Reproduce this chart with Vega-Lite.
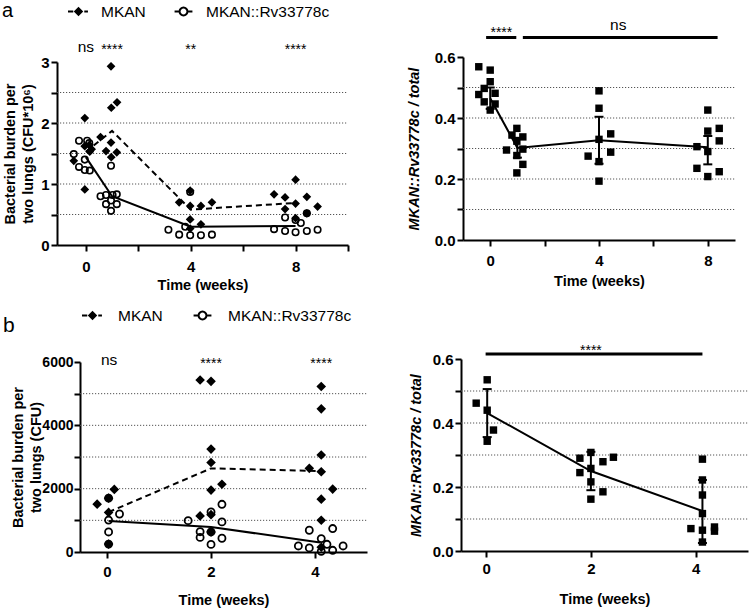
{
  "$schema": "https://vega.github.io/schema/vega-lite/v6.json",
  "width": 749,
  "height": 609,
  "autosize": "none",
  "padding": 0,
  "background": "white",
  "config": {
    "font": "Liberation Sans",
    "view": {"stroke": null},
    "axis": {
      "domainColor": "black", "domainWidth": 2, "tickColor": "black", "tickWidth": 2, "tickSize": 6,
      "labelFont": "Liberation Sans", "labelFontWeight": "bold", "labelFontSize": 15, "labelColor": "black",
      "titleFont": "Liberation Sans", "titleFontWeight": "bold", "titleFontSize": 14.5, "titleColor": "black",
      "titleLineHeight": 18.5, "grid": false, "labelOverlap": false, "labelFlush": false
    },
    "axisY": {"labelPadding": 2}
  },
  "resolve": {"scale": {"x": "independent", "y": "independent", "shape": "independent", "fill": "independent"}},
  "datasets": {
    "gridAL": [{"g": 0.5}, {"g": 1}, {"g": 1.5}, {"g": 2}, {"g": 2.5}],
    "gridAR": [{"g": 0.1}, {"g": 0.2}, {"g": 0.3}, {"g": 0.4}, {"g": 0.5}],
    "gridBL": [{"g": 1000}, {"g": 2000}, {"g": 3000}, {"g": 4000}, {"g": 5000}],
    "gridBR": [{"g": 0.1}, {"g": 0.2}, {"g": 0.3}, {"g": 0.4}, {"g": 0.5}],
    "ptsAL": [
      {"t": -0.26, "v": 1.71, "s": "MKAN::Rv33778c"}, {"t": 0.05, "v": 1.71, "s": "MKAN::Rv33778c"}, {"t": 0.13, "v": 1.67, "s": "MKAN::Rv33778c"},
      {"t": -0.46, "v": 1.49, "s": "MKAN::Rv33778c"}, {"t": -0.04, "v": 1.40, "s": "MKAN::Rv33778c"}, {"t": -0.26, "v": 1.28, "s": "MKAN::Rv33778c"},
      {"t": -0.04, "v": 1.23, "s": "MKAN::Rv33778c"}, {"t": 0.15, "v": 1.22, "s": "MKAN::Rv33778c"},
      {"t": 0.96, "v": 1.30, "s": "MKAN::Rv33778c"}, {"t": 0.56, "v": 0.80, "s": "MKAN::Rv33778c"}, {"t": 0.77, "v": 0.82, "s": "MKAN::Rv33778c"},
      {"t": 1.02, "v": 0.82, "s": "MKAN::Rv33778c"}, {"t": 1.18, "v": 0.83, "s": "MKAN::Rv33778c"}, {"t": 0.77, "v": 0.67, "s": "MKAN::Rv33778c"},
      {"t": 1.18, "v": 0.67, "s": "MKAN::Rv33778c"}, {"t": 0.96, "v": 0.56, "s": "MKAN::Rv33778c"}, {"t": 0.96, "v": 0.73, "s": "MKAN::Rv33778c"},
      {"t": 3.15, "v": 0.25, "s": "MKAN::Rv33778c"}, {"t": 3.56, "v": 0.17, "s": "MKAN::Rv33778c"}, {"t": 3.98, "v": 0.16, "s": "MKAN::Rv33778c"},
      {"t": 4.39, "v": 0.16, "s": "MKAN::Rv33778c"}, {"t": 4.81, "v": 0.17, "s": "MKAN::Rv33778c"}, {"t": 3.79, "v": 0.30, "s": "MKAN::Rv33778c"},
      {"t": 3.98, "v": 0.87, "s": "MKAN::Rv33778c"},
      {"t": 7.6, "v": 0.45, "s": "MKAN::Rv33778c"}, {"t": 8.0, "v": 0.41, "s": "MKAN::Rv33778c"}, {"t": 8.2, "v": 0.36, "s": "MKAN::Rv33778c"},
      {"t": 7.18, "v": 0.26, "s": "MKAN::Rv33778c"}, {"t": 7.6, "v": 0.23, "s": "MKAN::Rv33778c"}, {"t": 8.0, "v": 0.21, "s": "MKAN::Rv33778c"},
      {"t": 8.43, "v": 0.23, "s": "MKAN::Rv33778c"}, {"t": 8.84, "v": 0.25, "s": "MKAN::Rv33778c"}, {"t": 8.43, "v": 0.52, "s": "MKAN::Rv33778c"},
      {"t": -0.04, "v": 2.08, "s": "MKAN"}, {"t": 0.13, "v": 1.64, "s": "MKAN"}, {"t": 0.22, "v": 1.57, "s": "MKAN"},
      {"t": -0.04, "v": 1.62, "s": "MKAN"}, {"t": 0.15, "v": 1.53, "s": "MKAN"}, {"t": -0.46, "v": 1.38, "s": "MKAN"}, {"t": -0.04, "v": 0.91, "s": "MKAN"},
      {"t": 0.96, "v": 2.93, "s": "MKAN"}, {"t": 1.19, "v": 2.34, "s": "MKAN"}, {"t": 0.97, "v": 2.25, "s": "MKAN"}, {"t": 0.56, "v": 1.77, "s": "MKAN"},
      {"t": 0.96, "v": 1.68, "s": "MKAN"}, {"t": 0.77, "v": 1.54, "s": "MKAN"}, {"t": 1.18, "v": 1.52, "s": "MKAN"}, {"t": 0.97, "v": 1.44, "s": "MKAN"},
      {"t": 3.56, "v": 0.70, "s": "MKAN"}, {"t": 3.98, "v": 0.64, "s": "MKAN"}, {"t": 4.39, "v": 0.64, "s": "MKAN"}, {"t": 4.81, "v": 0.70, "s": "MKAN"},
      {"t": 3.98, "v": 0.42, "s": "MKAN"}, {"t": 4.39, "v": 0.34, "s": "MKAN"}, {"t": 3.98, "v": 0.89, "s": "MKAN"}, {"t": 3.98, "v": 0.27, "s": "MKAN"},
      {"t": 8.0, "v": 1.07, "s": "MKAN"}, {"t": 7.18, "v": 0.83, "s": "MKAN"}, {"t": 7.6, "v": 0.78, "s": "MKAN"}, {"t": 8.43, "v": 0.79, "s": "MKAN"},
      {"t": 8.0, "v": 0.68, "s": "MKAN"}, {"t": 7.6, "v": 0.59, "s": "MKAN"}, {"t": 8.84, "v": 0.63, "s": "MKAN"}, {"t": 8.43, "v": 0.52, "s": "MKAN"},
      {"t": 8.0, "v": 0.44, "s": "MKAN"}
    ],
    "lineAL": [
      {"t": 0, "v": 1.53, "s": "MKAN"}, {"t": 1, "v": 1.87, "s": "MKAN"}, {"t": 4, "v": 0.58, "s": "MKAN"}, {"t": 8, "v": 0.69, "s": "MKAN"},
      {"t": 0, "v": 1.44, "s": "MKAN::Rv33778c"}, {"t": 1, "v": 0.80, "s": "MKAN::Rv33778c"}, {"t": 4, "v": 0.30, "s": "MKAN::Rv33778c"}, {"t": 8, "v": 0.31, "s": "MKAN::Rv33778c"}
    ],
    "sigAL": [
      {"t": 0, "v": 3.17, "lab": "ns"}, {"t": 1, "v": 3.13, "lab": "****"}, {"t": 4, "v": 3.13, "lab": "**"}, {"t": 8, "v": 3.13, "lab": "****"}
    ],
    "sqAR": [
      {"t": -0.42, "v": 0.568}, {"t": 0, "v": 0.557}, {"t": 0, "v": 0.519}, {"t": -0.22, "v": 0.497}, {"t": -0.42, "v": 0.477},
      {"t": 0.18, "v": 0.481}, {"t": -0.22, "v": 0.453}, {"t": 0.18, "v": 0.446}, {"t": 0, "v": 0.426},
      {"t": 0.98, "v": 0.366}, {"t": 0.8, "v": 0.344}, {"t": 1.2, "v": 0.338}, {"t": 0.98, "v": 0.324}, {"t": 0.6, "v": 0.295},
      {"t": 1.2, "v": 0.298}, {"t": 0.98, "v": 0.277}, {"t": 1.2, "v": 0.248}, {"t": 0.98, "v": 0.22},
      {"t": 4, "v": 0.489}, {"t": 4, "v": 0.432}, {"t": 4, "v": 0.330}, {"t": 3.6, "v": 0.275}, {"t": 4.43, "v": 0.348},
      {"t": 4.43, "v": 0.288}, {"t": 4, "v": 0.257}, {"t": 4, "v": 0.193},
      {"t": 8, "v": 0.426}, {"t": 8.42, "v": 0.366}, {"t": 8, "v": 0.357}, {"t": 8.42, "v": 0.325}, {"t": 7.6, "v": 0.306},
      {"t": 8, "v": 0.290}, {"t": 7.6, "v": 0.235}, {"t": 8.42, "v": 0.224}, {"t": 8, "v": 0.208}
    ],
    "mAR": [
      {"t": 0, "m": 0.465, "lo": 0.43, "hi": 0.50}, {"t": 1, "m": 0.302, "lo": 0.27, "hi": 0.335},
      {"t": 4, "m": 0.327, "lo": 0.25, "hi": 0.404}, {"t": 8, "m": 0.304, "lo": 0.248, "hi": 0.341}
    ],
    "barAR": [{"x1": -0.15, "x2": 0.96, "y": 0.664}, {"x1": 1.2, "x2": 8.36, "y": 0.664}],
    "sigAR": [{"t": 0.41, "v": 0.667, "lab": "****"}, {"t": 4.71, "v": 0.689, "lab": "ns"}],
    "ptsBL": [
      {"t": 0.03, "v": 1700, "s": "MKAN::Rv33778c"}, {"t": 0.03, "v": 1010, "s": "MKAN::Rv33778c"}, {"t": 0.03, "v": 633, "s": "MKAN::Rv33778c"},
      {"t": 0.24, "v": 1200, "s": "MKAN::Rv33778c"}, {"t": 0.03, "v": 250, "s": "MKAN::Rv33778c"},
      {"t": 1.56, "v": 990, "s": "MKAN::Rv33778c"}, {"t": 2, "v": 1267, "s": "MKAN::Rv33778c"}, {"t": 2.21, "v": 1506, "s": "MKAN::Rv33778c"},
      {"t": 2.21, "v": 950, "s": "MKAN::Rv33778c"}, {"t": 1.79, "v": 640, "s": "MKAN::Rv33778c"}, {"t": 1.79, "v": 460, "s": "MKAN::Rv33778c"},
      {"t": 2, "v": 240, "s": "MKAN::Rv33778c"}, {"t": 2.21, "v": 434, "s": "MKAN::Rv33778c"}, {"t": 2, "v": 633, "s": "MKAN::Rv33778c"},
      {"t": 3.89, "v": 687, "s": "MKAN::Rv33778c"}, {"t": 4.34, "v": 741, "s": "MKAN::Rv33778c"}, {"t": 4.12, "v": 424, "s": "MKAN::Rv33778c"},
      {"t": 4.23, "v": 244, "s": "MKAN::Rv33778c"}, {"t": 3.68, "v": 190, "s": "MKAN::Rv33778c"}, {"t": 3.89, "v": 127, "s": "MKAN::Rv33778c"},
      {"t": 4.12, "v": 22, "s": "MKAN::Rv33778c"}, {"t": 4.34, "v": 54, "s": "MKAN::Rv33778c"}, {"t": 4.54, "v": 190, "s": "MKAN::Rv33778c"},
      {"t": -0.19, "v": 1511, "s": "MKAN"}, {"t": 0.14, "v": 1976, "s": "MKAN"}, {"t": 0.03, "v": 1250, "s": "MKAN"},
      {"t": 0.03, "v": 1700, "s": "MKAN"}, {"t": 0.03, "v": 250, "s": "MKAN"},
      {"t": 1.79, "v": 5430, "s": "MKAN"}, {"t": 2, "v": 5390, "s": "MKAN"}, {"t": 2, "v": 3250, "s": "MKAN"}, {"t": 2, "v": 2825, "s": "MKAN"},
      {"t": 2, "v": 1955, "s": "MKAN"}, {"t": 2.21, "v": 2140, "s": "MKAN"}, {"t": 1.79, "v": 1140, "s": "MKAN"}, {"t": 2, "v": 1180, "s": "MKAN"},
      {"t": 2, "v": 633, "s": "MKAN"},
      {"t": 4.12, "v": 5227, "s": "MKAN"}, {"t": 4.12, "v": 4520, "s": "MKAN"}, {"t": 4.12, "v": 3063, "s": "MKAN"}, {"t": 3.89, "v": 2641, "s": "MKAN"},
      {"t": 4.12, "v": 2534, "s": "MKAN"}, {"t": 4.34, "v": 1986, "s": "MKAN"}, {"t": 4.12, "v": 1669, "s": "MKAN"}, {"t": 4.12, "v": 1004, "s": "MKAN"},
      {"t": 4.12, "v": 150, "s": "MKAN"}
    ],
    "lineBL": [
      {"t": 0.03, "v": 1260, "s": "MKAN"}, {"t": 2, "v": 2640, "s": "MKAN"}, {"t": 4.05, "v": 2560, "s": "MKAN"},
      {"t": 0.03, "v": 980, "s": "MKAN::Rv33778c"}, {"t": 2, "v": 790, "s": "MKAN::Rv33778c"}, {"t": 4.1, "v": 300, "s": "MKAN::Rv33778c"}
    ],
    "sigBL": [{"t": 0.04, "v": 5914, "lab": "ns"}, {"t": 2, "v": 5797, "lab": "****"}, {"t": 4.12, "v": 5797, "lab": "****"}],
    "sqBR": [
      {"t": 0.02, "v": 0.535}, {"t": -0.19, "v": 0.462}, {"t": 0.02, "v": 0.440}, {"t": 0.14, "v": 0.378}, {"t": 0.02, "v": 0.343},
      {"t": 1.79, "v": 0.290}, {"t": 2, "v": 0.308}, {"t": 2.23, "v": 0.279}, {"t": 2.43, "v": 0.293}, {"t": 1.79, "v": 0.245},
      {"t": 2, "v": 0.258}, {"t": 2, "v": 0.216}, {"t": 2.23, "v": 0.185}, {"t": 2, "v": 0.162},
      {"t": 4.13, "v": 0.287}, {"t": 4.13, "v": 0.222}, {"t": 4.13, "v": 0.175}, {"t": 4.13, "v": 0.117}, {"t": 3.91, "v": 0.070},
      {"t": 4.13, "v": 0.065}, {"t": 4.36, "v": 0.075}, {"t": 4.36, "v": 0.062}, {"t": 4.13, "v": 0.028}
    ],
    "mBR": [
      {"t": 0.02, "m": 0.431, "lo": 0.356, "hi": 0.506}, {"t": 2, "m": 0.25, "lo": 0.19, "hi": 0.31}, {"t": 4.13, "m": 0.125, "lo": 0.025, "hi": 0.222}
    ],
    "barBR": [{"x1": -0.01, "x2": 4.13, "y": 0.616}],
    "sigBR": [{"t": 2, "v": 0.614, "lab": "****"}]
  },
  "layer": [
    {
      "resolve": {"scale": {"shape": "independent"}},
      "layer": [
        {
          "data": {"name": "gridAL"},
          "mark": {"type": "rule", "color": "#555", "strokeWidth": 1, "strokeDash": [1.2, 1.8]},
          "encoding": {
            "x": {"datum": -1.1, "type": "quantitative",
              "scale": {"domain": [-1.1, 10], "range": [57, 348], "nice": false, "zero": false},
              "axis": {"orient": "bottom", "offset": -364, "values": [0, 2, 4, 6, 8, 10], "format": "d", "labelExpr": "datum.value % 4 == 0 && datum.value < 10 ? datum.label : ''", "title": "Time (weeks)", "labelPadding": 8, "titlePadding": 4}},
            "x2": {"datum": 10},
            "y": {"field": "g", "type": "quantitative",
              "scale": {"domain": [0, 3], "range": [245, 62], "nice": false, "zero": false},
              "axis": {"orient": "left", "offset": -57, "values": [0, 0.5, 1, 1.5, 2, 2.5, 3], "format": ".0f", "labelExpr": "datum.value % 1 == 0 ? datum.label : ''", "title": ["Bacterial burden per", "two lungs (CFU*10⁶)"], "titlePadding": 5}}
          }
        },
        {
          "data": {"name": "ptsAL"},
          "mark": {"type": "point", "stroke": "black", "strokeWidth": 1.6, "opacity": 1, "size": 42},
          "encoding": {
            "x": {"field": "t", "type": "quantitative"},
            "y": {"field": "v", "type": "quantitative"},
            "shape": {"field": "s", "type": "nominal", "scale": {"domain": ["MKAN", "MKAN::Rv33778c"], "range": ["diamond", "circle"]}, "legend": null},
            "fill": {"field": "s", "type": "nominal", "scale": {"domain": ["MKAN", "MKAN::Rv33778c"], "range": ["black", "transparent"]}, "legend": null}
          }
        },
        {
          "data": {"name": "lineAL"},
          "transform": [{"filter": "false"}],
          "mark": {"type": "point", "filled": true, "color": "black", "fill": "black", "strokeWidth": 0, "opacity": 1, "size": 441},
          "encoding": {
            "x": {"field": "t", "type": "quantitative"},
            "y": {"field": "v", "type": "quantitative"},
            "shape": {"field": "s", "type": "nominal",
              "scale": {"domain": ["MKAN", "MKAN::Rv33778c"], "range": [
                "M-1,-0.095L-0.5,-0.095L-0.5,0.095L-1,0.095ZM0.55,-0.095L0.9,-0.095L0.9,0.095L0.55,0.095ZM0,-0.45L0.45,0L0,0.45L-0.45,0Z",
                "M-0.85,-0.095L-0.46,-0.095L-0.46,0.095L-0.85,0.095ZM0.46,-0.095L0.85,-0.095L0.85,0.095L0.46,0.095ZM0.47,0L0.434,0.18L0.332,0.332L0.18,0.434L0,0.47L-0.18,0.434L-0.332,0.332L-0.434,0.18L-0.47,0L-0.434,-0.18L-0.332,-0.332L-0.18,-0.434L0,-0.47L0.18,-0.434L0.332,-0.332L0.434,-0.18ZM0.28,0L0.259,-0.107L0.198,-0.198L0.107,-0.259L0,-0.28L-0.107,-0.259L-0.198,-0.198L-0.259,-0.107L-0.28,0L-0.259,0.107L-0.198,0.198L-0.107,0.259L0,0.28L0.107,0.259L0.198,0.198L0.259,0.107Z"]},
              "legend": {"orient": "none", "legendX": 2, "legendY": 1, "direction": "horizontal", "padding": 0,
                "title": "a", "titleOrient": "left", "titleAnchor": "middle", "titleBaseline": "middle", "titleFont": "Liberation Sans", "titleFontSize": 20, "titleFontWeight": "normal", "titleColor": "black", "titlePadding": 54,
                "labelFont": "Liberation Sans", "labelFontSize": 15.5, "labelColor": "black", "labelOffset": 12, "columnPadding": 27, "symbolSize": 441, "symbolStrokeWidth": 0, "symbolFillColor": "black", "symbolOpacity": 1}}
          }
        },
        {
          "data": {"name": "lineAL"}, "transform": [{"filter": "datum.s == 'MKAN'"}],
          "mark": {"type": "line", "color": "black", "strokeWidth": 2, "strokeDash": [6, 4]},
          "encoding": {"x": {"field": "t", "type": "quantitative"}, "y": {"field": "v", "type": "quantitative"}}
        },
        {
          "data": {"name": "lineAL"}, "transform": [{"filter": "datum.s != 'MKAN'"}],
          "mark": {"type": "line", "color": "black", "strokeWidth": 2},
          "encoding": {"x": {"field": "t", "type": "quantitative"}, "y": {"field": "v", "type": "quantitative"}}
        },
        {
          "data": {"name": "sigAL"}, "transform": [{"filter": "datum.lab == 'ns'"}],
          "mark": {"type": "text", "fontSize": 15.5, "baseline": "alphabetic", "align": "center", "color": "black"},
          "encoding": {"x": {"field": "t", "type": "quantitative"}, "y": {"field": "v", "type": "quantitative"}, "text": {"field": "lab"}}
        },
        {
          "data": {"name": "sigAL"}, "transform": [{"filter": "datum.lab != 'ns'"}],
          "mark": {"type": "text", "fontSize": 14, "baseline": "alphabetic", "align": "center", "color": "black"},
          "encoding": {"x": {"field": "t", "type": "quantitative"}, "y": {"field": "v", "type": "quantitative"}, "text": {"field": "lab"}}
        }
      ]
    },
    {
      "layer": [
        {
          "data": {"name": "gridAR"},
          "mark": {"type": "rule", "color": "#555", "strokeWidth": 1, "strokeDash": [1.2, 1.8]},
          "encoding": {
            "x": {"datum": -1, "type": "quantitative",
              "scale": {"domain": [-1, 9], "range": [463, 735], "nice": false, "zero": false},
              "axis": {"orient": "bottom", "offset": -369, "values": [0, 2, 4, 6, 8], "format": "d", "labelExpr": "datum.value % 4 == 0 ? datum.label : ''", "title": "Time (weeks)", "labelPadding": 7.5, "titlePadding": 6}},
            "x2": {"datum": 9},
            "y": {"field": "g", "type": "quantitative",
              "scale": {"domain": [0, 0.6], "range": [240, 57], "nice": false, "zero": false},
              "axis": {"orient": "left", "offset": -463, "values": [0, 0.1, 0.2, 0.3, 0.4, 0.5, 0.6], "format": ".1f", "labelExpr": "round(datum.value*10) % 2 == 0 ? datum.label : ''", "title": "MKAN::Rv33778c / total", "titleFontStyle": "italic", "titlePadding": 13}}
          }
        },
        {
          "data": {"name": "sqAR"},
          "mark": {"type": "square", "color": "black", "filled": true, "opacity": 1, "size": 55},
          "encoding": {"x": {"field": "t", "type": "quantitative"}, "y": {"field": "v", "type": "quantitative"}}
        },
        {
          "data": {"name": "mAR"},
          "mark": {"type": "line", "color": "black", "strokeWidth": 2},
          "encoding": {"x": {"field": "t", "type": "quantitative"}, "y": {"field": "m", "type": "quantitative"}}
        },
        {
          "data": {"name": "mAR"},
          "mark": {"type": "rule", "color": "black", "strokeWidth": 2},
          "encoding": {"x": {"field": "t", "type": "quantitative"}, "y": {"field": "lo", "type": "quantitative"}, "y2": {"field": "hi"}}
        },
        {
          "data": {"name": "mAR"},
          "mark": {"type": "tick", "orient": "horizontal", "color": "black", "size": 9, "thickness": 2, "opacity": 1},
          "encoding": {"x": {"field": "t", "type": "quantitative"}, "y": {"field": "lo", "type": "quantitative"}}
        },
        {
          "data": {"name": "mAR"},
          "mark": {"type": "tick", "orient": "horizontal", "color": "black", "size": 9, "thickness": 2, "opacity": 1},
          "encoding": {"x": {"field": "t", "type": "quantitative"}, "y": {"field": "hi", "type": "quantitative"}}
        },
        {
          "data": {"name": "barAR"},
          "mark": {"type": "rule", "color": "black", "strokeWidth": 3},
          "encoding": {"x": {"field": "x1", "type": "quantitative"}, "x2": {"field": "x2"}, "y": {"field": "y", "type": "quantitative"}}
        },
        {
          "data": {"name": "sigAR"}, "transform": [{"filter": "datum.lab == 'ns'"}],
          "mark": {"type": "text", "fontSize": 15.5, "baseline": "alphabetic", "align": "center", "color": "black"},
          "encoding": {"x": {"field": "t", "type": "quantitative"}, "y": {"field": "v", "type": "quantitative"}, "text": {"field": "lab"}}
        },
        {
          "data": {"name": "sigAR"}, "transform": [{"filter": "datum.lab != 'ns'"}],
          "mark": {"type": "text", "fontSize": 14, "baseline": "alphabetic", "align": "center", "color": "black"},
          "encoding": {"x": {"field": "t", "type": "quantitative"}, "y": {"field": "v", "type": "quantitative"}, "text": {"field": "lab"}}
        }
      ]
    },
    {
      "resolve": {"scale": {"shape": "independent"}},
      "layer": [
        {
          "data": {"name": "gridBL"},
          "mark": {"type": "rule", "color": "#555", "strokeWidth": 1, "strokeDash": [1.2, 1.8]},
          "encoding": {
            "x": {"datum": -0.52, "type": "quantitative",
              "scale": {"domain": [-0.52, 5], "range": [80, 367], "nice": false, "zero": false},
              "axis": {"orient": "bottom", "offset": -57, "values": [0, 2, 4], "format": "d", "title": "Time (weeks)", "labelPadding": 6, "titlePadding": 14}},
            "x2": {"datum": 5},
            "y": {"field": "g", "type": "quantitative",
              "scale": {"domain": [0, 6000], "range": [552, 362], "nice": false, "zero": false},
              "axis": {"orient": "left", "offset": -80, "values": [0, 1000, 2000, 3000, 4000, 5000, 6000], "format": "d", "labelExpr": "datum.value % 2000 == 0 ? datum.label : ''", "title": ["Bacterial burden per", "two lungs (CFU)"], "labelFontSize": 14, "labelPadding": 1, "titlePadding": -2}}
          }
        },
        {
          "data": {"name": "ptsBL"},
          "mark": {"type": "point", "stroke": "black", "strokeWidth": 1.8, "opacity": 1, "size": 50},
          "encoding": {
            "x": {"field": "t", "type": "quantitative"},
            "y": {"field": "v", "type": "quantitative"},
            "shape": {"field": "s", "type": "nominal", "scale": {"domain": ["MKAN", "MKAN::Rv33778c"], "range": ["diamond", "circle"]}, "legend": null},
            "fill": {"field": "s", "type": "nominal", "scale": {"domain": ["MKAN", "MKAN::Rv33778c"], "range": ["black", "transparent"]}, "legend": null}
          }
        },
        {
          "data": {"name": "lineBL"},
          "transform": [{"filter": "false"}],
          "mark": {"type": "point", "filled": true, "color": "black", "fill": "black", "strokeWidth": 0, "opacity": 1, "size": 441},
          "encoding": {
            "x": {"field": "t", "type": "quantitative"},
            "y": {"field": "v", "type": "quantitative"},
            "shape": {"field": "s", "type": "nominal",
              "scale": {"domain": ["MKAN", "MKAN::Rv33778c"], "range": [
                "M-1,-0.095L-0.5,-0.095L-0.5,0.095L-1,0.095ZM0.55,-0.095L0.9,-0.095L0.9,0.095L0.55,0.095ZM0,-0.45L0.45,0L0,0.45L-0.45,0Z",
                "M-0.85,-0.095L-0.46,-0.095L-0.46,0.095L-0.85,0.095ZM0.46,-0.095L0.85,-0.095L0.85,0.095L0.46,0.095ZM0.47,0L0.434,0.18L0.332,0.332L0.18,0.434L0,0.47L-0.18,0.434L-0.332,0.332L-0.434,0.18L-0.47,0L-0.434,-0.18L-0.332,-0.332L-0.18,-0.434L0,-0.47L0.18,-0.434L0.332,-0.332L0.434,-0.18ZM0.28,0L0.259,-0.107L0.198,-0.198L0.107,-0.259L0,-0.28L-0.107,-0.259L-0.198,-0.198L-0.259,-0.107L-0.28,0L-0.259,0.107L-0.198,0.198L-0.107,0.259L0,0.28L0.107,0.259L0.198,0.198L0.259,0.107Z"]},
              "legend": {"orient": "none", "legendX": 3, "legendY": 305, "direction": "horizontal", "padding": 0,
                "title": "b", "titleOrient": "left", "titleAnchor": "middle", "titleBaseline": "top", "titleFont": "Liberation Sans", "titleFontSize": 21, "titleFontWeight": "normal", "titleColor": "black", "titlePadding": 67,
                "labelFont": "Liberation Sans", "labelFontSize": 15.5, "labelColor": "black", "labelOffset": 15, "columnPadding": 29, "symbolSize": 441, "symbolStrokeWidth": 0, "symbolFillColor": "black", "symbolOpacity": 1}}
          }
        },
        {
          "data": {"name": "lineBL"}, "transform": [{"filter": "datum.s == 'MKAN'"}],
          "mark": {"type": "line", "color": "black", "strokeWidth": 2, "strokeDash": [6, 4]},
          "encoding": {"x": {"field": "t", "type": "quantitative"}, "y": {"field": "v", "type": "quantitative"}}
        },
        {
          "data": {"name": "lineBL"}, "transform": [{"filter": "datum.s != 'MKAN'"}],
          "mark": {"type": "line", "color": "black", "strokeWidth": 2},
          "encoding": {"x": {"field": "t", "type": "quantitative"}, "y": {"field": "v", "type": "quantitative"}}
        },
        {
          "data": {"name": "sigBL"}, "transform": [{"filter": "datum.lab == 'ns'"}],
          "mark": {"type": "text", "fontSize": 15.5, "baseline": "alphabetic", "align": "center", "color": "black"},
          "encoding": {"x": {"field": "t", "type": "quantitative"}, "y": {"field": "v", "type": "quantitative"}, "text": {"field": "lab"}}
        },
        {
          "data": {"name": "sigBL"}, "transform": [{"filter": "datum.lab != 'ns'"}],
          "mark": {"type": "text", "fontSize": 14, "baseline": "alphabetic", "align": "center", "color": "black"},
          "encoding": {"x": {"field": "t", "type": "quantitative"}, "y": {"field": "v", "type": "quantitative"}, "text": {"field": "lab"}}
        }
      ]
    },
    {
      "layer": [
        {
          "data": {"name": "gridBR"},
          "mark": {"type": "rule", "color": "#555", "strokeWidth": 1, "strokeDash": [1.2, 1.8]},
          "encoding": {
            "x": {"datum": -0.48, "type": "quantitative",
              "scale": {"domain": [-0.48, 5], "range": [461, 748], "nice": false, "zero": false},
              "axis": {"orient": "bottom", "offset": -58, "values": [0, 2, 4], "format": "d", "title": "Time (weeks)", "labelPadding": 4, "titlePadding": 16}},
            "x2": {"datum": 5},
            "y": {"field": "g", "type": "quantitative",
              "scale": {"domain": [0, 0.6], "range": [551, 359], "nice": false, "zero": false},
              "axis": {"orient": "left", "offset": -461, "values": [0, 0.1, 0.2, 0.3, 0.4, 0.5, 0.6], "format": ".1f", "labelExpr": "round(datum.value*10) % 2 == 0 ? datum.label : ''", "title": "MKAN::Rv33778c / total", "titleFontStyle": "italic", "titlePadding": 9}}
          }
        },
        {
          "data": {"name": "sqBR"},
          "mark": {"type": "square", "color": "black", "filled": true, "opacity": 1, "size": 55},
          "encoding": {"x": {"field": "t", "type": "quantitative"}, "y": {"field": "v", "type": "quantitative"}}
        },
        {
          "data": {"name": "mBR"},
          "mark": {"type": "line", "color": "black", "strokeWidth": 2},
          "encoding": {"x": {"field": "t", "type": "quantitative"}, "y": {"field": "m", "type": "quantitative"}}
        },
        {
          "data": {"name": "mBR"},
          "mark": {"type": "rule", "color": "black", "strokeWidth": 2},
          "encoding": {"x": {"field": "t", "type": "quantitative"}, "y": {"field": "lo", "type": "quantitative"}, "y2": {"field": "hi"}}
        },
        {
          "data": {"name": "mBR"},
          "mark": {"type": "tick", "orient": "horizontal", "color": "black", "size": 9, "thickness": 2, "opacity": 1},
          "encoding": {"x": {"field": "t", "type": "quantitative"}, "y": {"field": "lo", "type": "quantitative"}}
        },
        {
          "data": {"name": "mBR"},
          "mark": {"type": "tick", "orient": "horizontal", "color": "black", "size": 9, "thickness": 2, "opacity": 1},
          "encoding": {"x": {"field": "t", "type": "quantitative"}, "y": {"field": "hi", "type": "quantitative"}}
        },
        {
          "data": {"name": "barBR"},
          "mark": {"type": "rule", "color": "black", "strokeWidth": 3},
          "encoding": {"x": {"field": "x1", "type": "quantitative"}, "x2": {"field": "x2"}, "y": {"field": "y", "type": "quantitative"}}
        },
        {
          "data": {"name": "sigBR"},
          "mark": {"type": "text", "fontSize": 14, "baseline": "alphabetic", "align": "center", "color": "black"},
          "encoding": {"x": {"field": "t", "type": "quantitative"}, "y": {"field": "v", "type": "quantitative"}, "text": {"field": "lab"}}
        }
      ]
    }
  ]
}
